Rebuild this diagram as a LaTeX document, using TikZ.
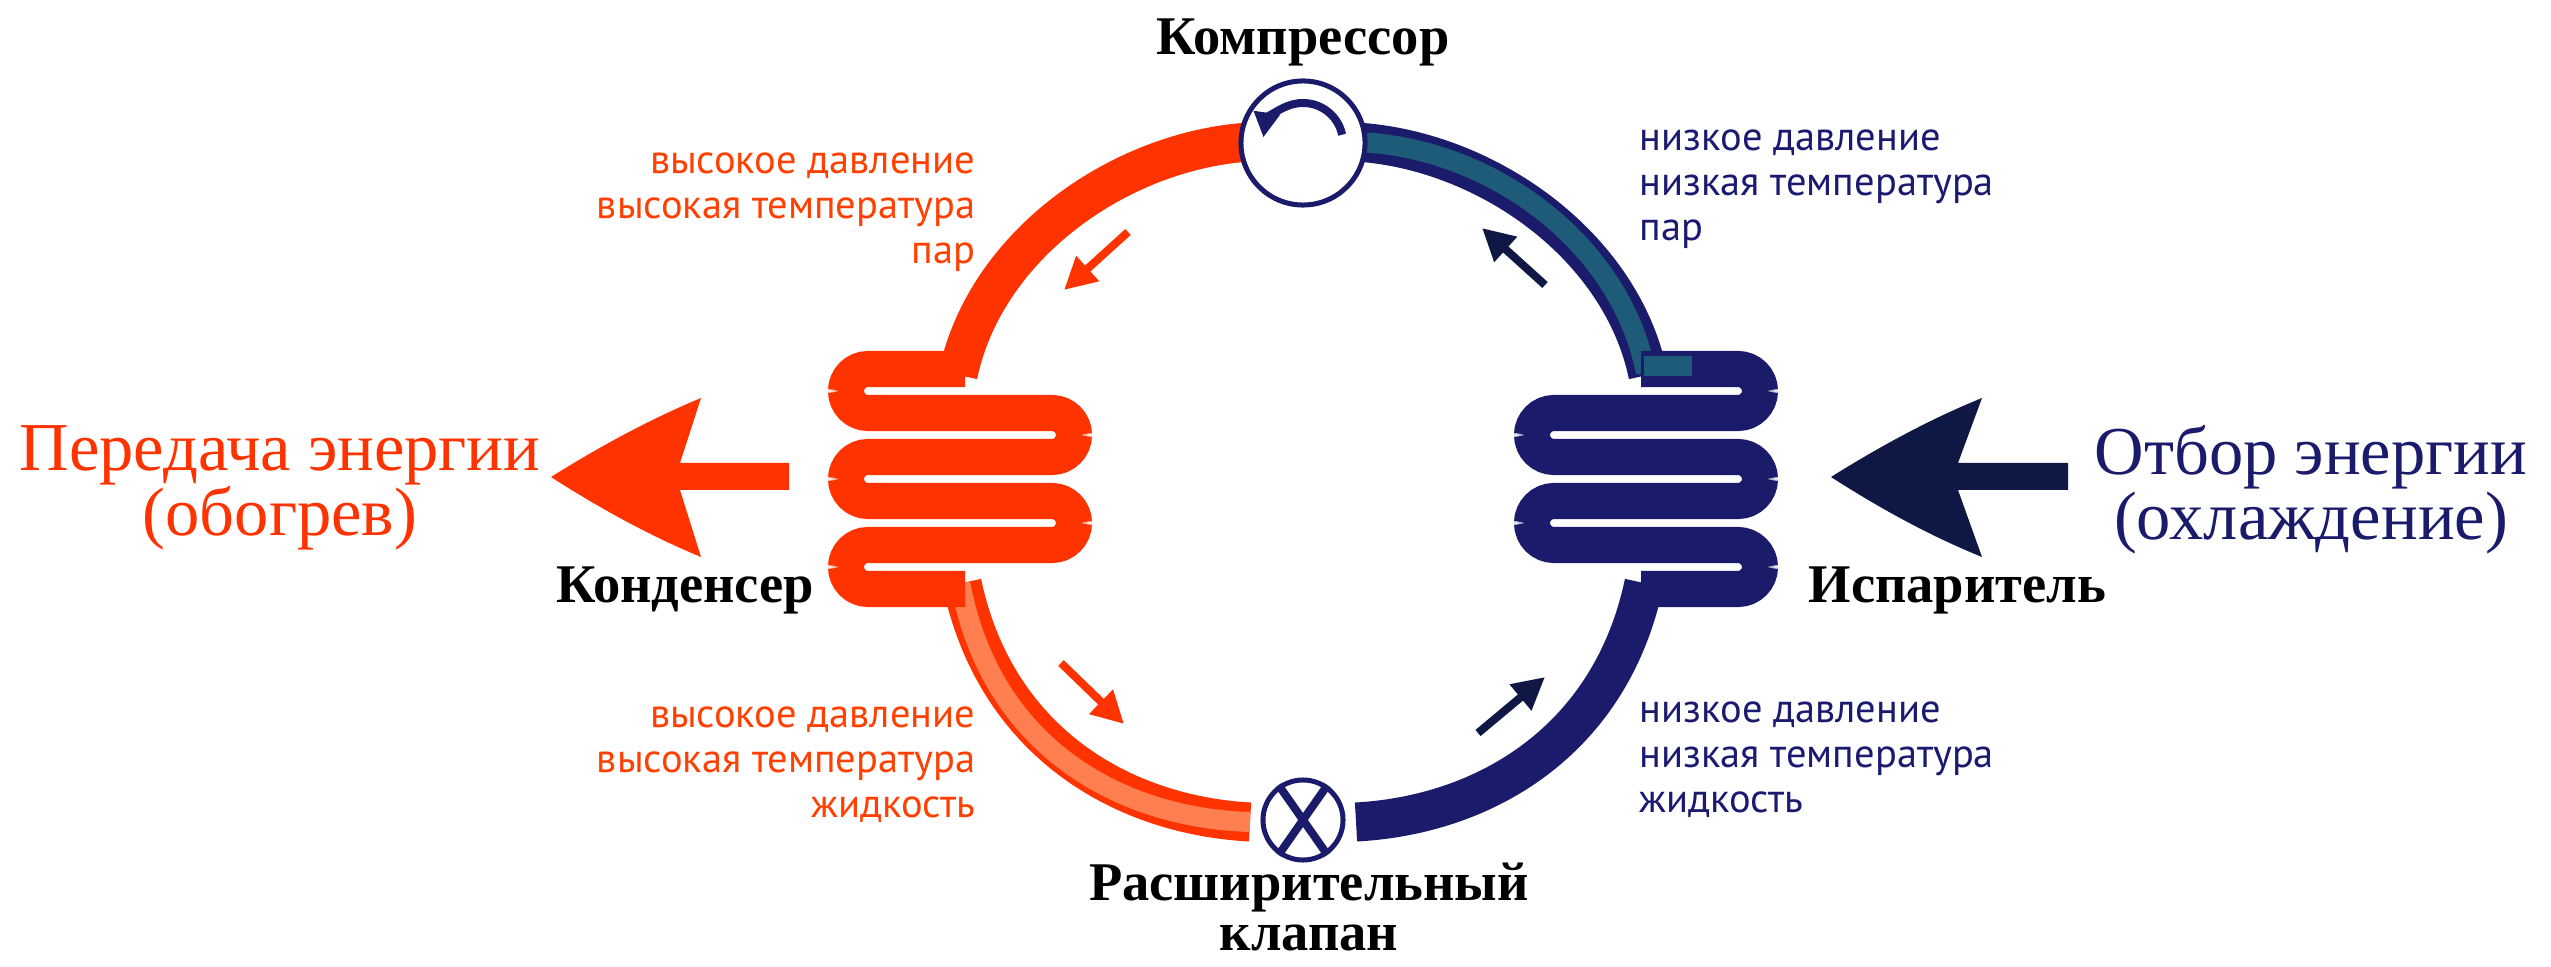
\documentclass[tikz,border=0pt]{standalone}
\usepackage{fontspec}
\setmainfont{Liberation Serif}
\newfontfamily\lblfont{PT Sans}
\usetikzlibrary{arrows.meta,positioning,calc}

\definecolor{hotred}{HTML}{FF3300}
\definecolor{salmon}{HTML}{FF7F50}
\definecolor{coldblue}{HTML}{1B1B6B}
\definecolor{teal}{HTML}{1E5B78}
\definecolor{darknavy}{HTML}{0F1745}
\definecolor{redtext}{HTML}{FF4000}
\definecolor{bluetext}{HTML}{1A1A70}

\tikzset{
  pipe/.style={line width=0.39cm},
  coil/.style={line width=0.36cm, rounded corners=0.22cm},
  stripe/.style={line width=0.2cm},
  flow/.style={line width=0.08cm, -{Triangle[length=0.32cm,width=0.32cm]}},
  part/.style={font=\bfseries\fontsize{15.5}{14}\selectfont, inner sep=0pt},
  state/.style={font=\lblfont\fontsize{11.5}{12.8}\selectfont, inner sep=0pt},
  big/.style={font=\fontsize{19.5}{18.5}\selectfont, align=center, inner sep=0pt}
}

\begin{document}
\begin{tikzpicture}[x=0.01cm, y=-0.01cm]
  \useasboundingbox (0,0) rectangle (2551,967);

  % condenser side
  \draw[pipe, hotred] (958,375) .. controls (985,245) and (1120,150) .. (1250,142);
  \draw[pipe, hotred] (962,583) .. controls (995,740) and (1120,815) .. (1250,822);
  \draw[stripe, salmon] (914,592) -- (962,592) .. controls (995,748) and (1120,818) .. (1250,822);
  \draw[coil, hotred] (965,369) -- (846,369) -- (846,413) -- (1074,413) -- (1074,457)
    -- (846,457) -- (846,501) -- (1074,501) -- (1074,545) -- (846,545) -- (846,589) -- (965,589);

  % evaporator side
  \draw[pipe, coldblue] (1648,375) .. controls (1621,245) and (1486,150) .. (1356,142);
  \draw[stripe, teal] (1692,364) -- (1644,364) .. controls (1615,238) and (1486,146) .. (1356,142);
  \draw[pipe, coldblue] (1644,583) .. controls (1611,740) and (1486,815) .. (1356,822);
  \draw[coil, coldblue] (1641,369) -- (1760,369) -- (1760,413) -- (1532,413) -- (1532,457)
    -- (1760,457) -- (1760,501) -- (1532,501) -- (1532,545) -- (1760,545) -- (1760,589) -- (1641,589);
  \draw[stripe, teal] (1692,366) -- (1644,366);

  % compressor and valve
  \node (comp) [circle, draw=coldblue, fill=white, line width=0.05cm, minimum size=1.24cm, inner sep=0pt] at (1303,143) {};
  \draw[coldblue, line width=0.08cm, -{Triangle[length=0.25cm,width=0.25cm]}]
    ([shift={(-12:40)}]comp.center) arc[start angle=-12, end angle=-172, radius=40];
  \node (valve) [circle, draw=coldblue, fill=white, line width=0.05cm, minimum size=0.8cm, inner sep=0pt] at (1303,820) {};
  \draw[coldblue, line width=0.08cm] (valve.55) -- (valve.235) (valve.125) -- (valve.-55);

  % flow arrows
  \draw[flow, hotred] (1128,232) -- (1064,290);
  \draw[flow, darknavy] (1545,285) -- (1482,228);
  \draw[flow, hotred] (1061,663) -- (1124,724);
  \draw[flow, darknavy] (1478,733) -- (1545,677);

  % energy arrows
  \fill[hotred] (551,477) .. controls (610,440) and (660,415) .. (701,398) -- (680,463) -- (789,463)
    -- (789,490) -- (680,490) -- (701,557) .. controls (660,540) and (610,515) .. (551,477) -- cycle;
  \fill[darknavy] (1831,477) .. controls (1890,440) and (1940,415) .. (1982,398) -- (1958,463) -- (2068,463)
    -- (2068,490) -- (1958,490) -- (1982,557) .. controls (1940,540) and (1890,515) .. (1831,477) -- cycle;

  % labels
  \node (complbl) [part, anchor=base] at (1303,55) {Компрессор};
  \node (valvelbl) [part, anchor=base] at (1309,900) {Расширительный};
  \node (valvelbl2) [part, below=0.12cm of valvelbl] {клапан};
  \node (condlbl) [part, anchor=base east] at (815,603) {Конденсер};
  \node (evaplbl) [part, anchor=base west] at (1808,603) {Испаритель};
  \node (heatlbl) [big, text=hotred, anchor=north] at (280,425) {Передача энергии\\(обогрев)};
  \node (coollbl) [big, text=coldblue, anchor=north] at (2311,425) {Отбор энергии\\(охлаждение)};

  \node (hotvap) [state, text=redtext, align=right, anchor=north east] at (976,152) {высокое давление\\высокая температура\\пар};
  \node (hotliq) [state, text=redtext, align=right, anchor=north east] at (976,706) {высокое давление\\высокая температура\\жидкость};
  \node (coldvap) [state, text=bluetext, align=left, anchor=north west] at (1639,129) {низкое давление\\низкая температура\\пар};
  \node (coldliq) [state, text=bluetext, align=left, anchor=north west] at (1639,701) {низкое давление\\низкая температура\\жидкость};
\end{tikzpicture}
\end{document}
